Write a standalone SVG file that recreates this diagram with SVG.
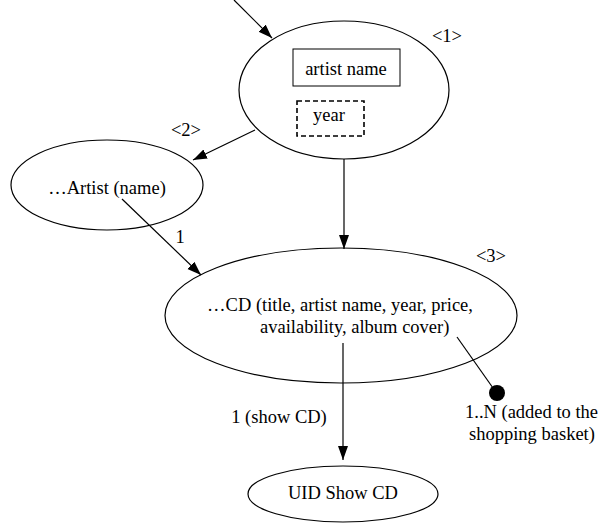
<svg xmlns="http://www.w3.org/2000/svg" width="599" height="524" viewBox="0 0 599 524" font-family="Liberation Serif, Times New Roman, serif" font-size="18.5">
  <style>
    .node { fill: #ffffff; stroke: #000000; stroke-width: 1.2; }
    .edge { fill: none; stroke: #000000; stroke-width: 1.2; }
    .box { fill: #ffffff; stroke: #000000; stroke-width: 1; }
    .dashed { fill: #ffffff; stroke: #000000; stroke-width: 1.6; stroke-dasharray: 5 3; }
    .c { text-anchor: middle; }
  </style>
  <defs>
    <marker id="arrow" markerUnits="userSpaceOnUse" markerWidth="15" markerHeight="11" refX="14" refY="5" orient="auto">
      <path d="M0,0 L14,5 L0,10 z" fill="#000000"/>
    </marker>
  </defs>

  <rect width="599" height="524" fill="#ffffff"/>

  <!-- <1> search form with its two fields -->
  <g id="node-search">
    <ellipse class="node" cx="344" cy="90" rx="105" ry="69"/>
    <rect class="box" x="293" y="49" width="107" height="37"/>
    <text class="c" x="346" y="75">artist name</text>
    <rect class="dashed" x="297" y="101" width="67" height="35"/>
    <text class="c" x="329" y="121">year</text>
    <text class="c" x="447" y="42">&lt;1&gt;</text>
  </g>

  <!-- <2> artist list -->
  <g id="node-artist">
    <ellipse class="node" cx="107" cy="185" rx="96" ry="45"/>
    <text class="c" x="107" y="194">…Artist (name)</text>
    <text class="c" x="186" y="136">&lt;2&gt;</text>
  </g>

  <!-- <3> CD list -->
  <g id="node-cd">
    <ellipse class="node" cx="341" cy="315.5" rx="176" ry="67.5"/>
    <text class="c" x="340" y="311">…CD (title, artist name, year, price,</text>
    <text x="260" y="333">availability, album cover)</text>
    <text class="c" x="491" y="262">&lt;3&gt;</text>
  </g>

  <g id="node-show-cd">
    <ellipse class="node" cx="343" cy="494" rx="95" ry="28"/>
    <text class="c" x="343" y="499">UID Show CD</text>
  </g>

  <g id="connectors">
    <line class="edge" x1="234" y1="0" x2="272" y2="38" marker-end="url(#arrow)"/>
    <line class="edge" x1="255" y1="130" x2="193" y2="160" marker-end="url(#arrow)"/>
    <line class="edge" x1="344" y1="159" x2="344" y2="249" marker-end="url(#arrow)"/>
    <line class="edge" x1="122" y1="199" x2="201" y2="275" marker-end="url(#arrow)"/>
    <text class="c" x="180" y="243">1</text>
    <line class="edge" x1="343" y1="343" x2="343" y2="460" marker-end="url(#arrow)"/>
    <text class="c" x="279" y="423">1 (show CD)</text>
    <line class="edge" x1="457" y1="337" x2="493" y2="388"/>
    <circle cx="497" cy="393" r="8" fill="#000000"/>
    <text x="465" y="418">1..N (added to the</text>
    <text x="469" y="440">shopping basket)</text>
  </g>
</svg>
